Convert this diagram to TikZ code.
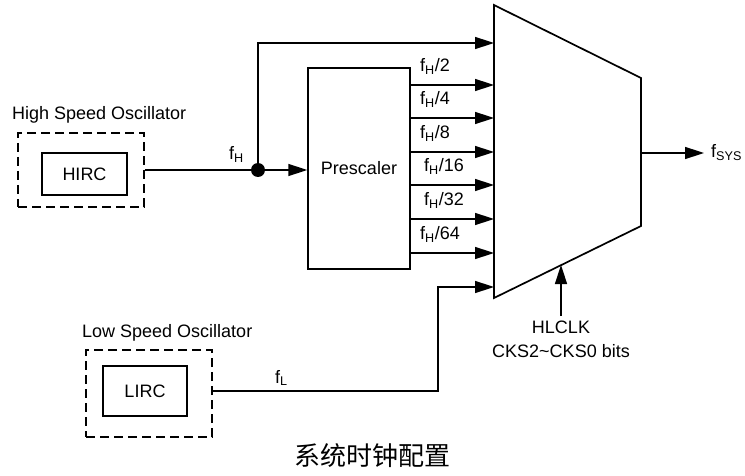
\documentclass[tikz,border=0pt]{standalone}
\usepackage{fontspec}
\setmainfont{Liberation Sans}
\newfontfamily\cjk{Noto Sans CJK SC}
\usetikzlibrary{arrows.meta}
\begin{document}
\begin{tikzpicture}[x=1pt,y=-1pt,
  font=\fontsize{18}{21}\selectfont,
  wire/.style={line width=1.5pt},
  sig/.style={wire,-{Triangle[length=19pt,width=12pt]}},
  box/.style={draw,line width=1.5pt,inner sep=0pt},
  dbox/.style={draw,line width=1.5pt,dash pattern=on 9pt off 5pt,inner sep=0pt},
  lbl/.style={inner sep=0pt,anchor=base west}]
\useasboundingbox (0,0) rectangle (745,476);

% oscillators
\node[dbox,minimum width=126pt,minimum height=74pt] (hosc) at (81,170) {};
\node[box,minimum width=85pt,minimum height=42pt] (hirc) at (84.5,174) {HIRC};
\node[lbl] (hlabel) at (12,120) {High Speed Oscillator};
\node[dbox,minimum width=126pt,minimum height=87pt] (losc) at (149,393.5) {};
\node[box,minimum width=84pt,minimum height=50pt] (lirc) at (145,391) {LIRC};
\node[lbl] (llabel) at (82,337) {Low Speed Oscillator};

% prescaler
\node[box,minimum width=102pt,minimum height=201pt] (pre) at (359,168.5) {Prescaler};

% mux
\coordinate (m1) at (494,5);
\coordinate (m2) at (641,78);
\coordinate (m3) at (641,226);
\coordinate (m4) at (494,298);
\draw[line width=1.7pt,line join=miter] (m1) -- (m2) -- (m3) -- (m4) -- cycle;
\coordinate (i0) at (494,43);
\coordinate (i1) at (494,85);
\coordinate (i2) at (494,118);
\coordinate (i3) at (494,152);
\coordinate (i4) at (494,185);
\coordinate (i5) at (494,219);
\coordinate (i6) at (494,253);
\coordinate (i7) at (494,287);
\coordinate (mo) at (641,153);
\coordinate (sel) at (561,265);

% fH path
\node[circle,fill,inner sep=0pt,minimum size=14pt] (dot) at (258,170) {};
\draw[wire] (hosc.east) -- (dot);
\draw[sig] (dot) -- (pre.west |- dot);
\draw[sig] (dot) -- (dot |- i0) -- (i0);
\node[lbl] (fh) at (229,160) {f\textsubscript{H}};

% prescaler outputs
\foreach \k in {1,...,6} {\draw[sig] (pre.east |- i\k) -- (i\k);}
\node[lbl] (d2)  at (420,72)  {f\textsubscript{H}/2};
\node[lbl] (d4)  at (420,105) {f\textsubscript{H}/4};
\node[lbl] (d8)  at (420,139) {f\textsubscript{H}/8};
\node[lbl] (d16) at (424,172) {f\textsubscript{H}/16};
\node[lbl] (d32) at (424,206) {f\textsubscript{H}/32};
\node[lbl] (d64) at (420,240) {f\textsubscript{H}/64};

% fL path
\coordinate (lc) at (438,391);
\draw[sig] (losc.east |- lirc) -- (lc) -- (lc |- i7) -- (i7);
\node[lbl] (fl) at (275,383) {f\textsubscript{L}};

% output
\coordinate (oend) at (704,153);
\draw[sig] (mo) -- (oend);
\node[lbl] (fsys) at (711,158) {f\textsubscript{SYS}};

% select
\node[inner sep=0pt] (hl) at (561,327) {HLCLK};
\node[inner sep=0pt] (cks) at (561,351) {CKS2\textasciitilde CKS0 bits};
\draw[sig] (hl.north |- 0,316) -- (sel);

% caption
\node[inner sep=0pt,font=\cjk\fontsize{26}{30}\selectfont] (cap) at (372,456) {系统时钟配置};
\end{tikzpicture}
\end{document}
